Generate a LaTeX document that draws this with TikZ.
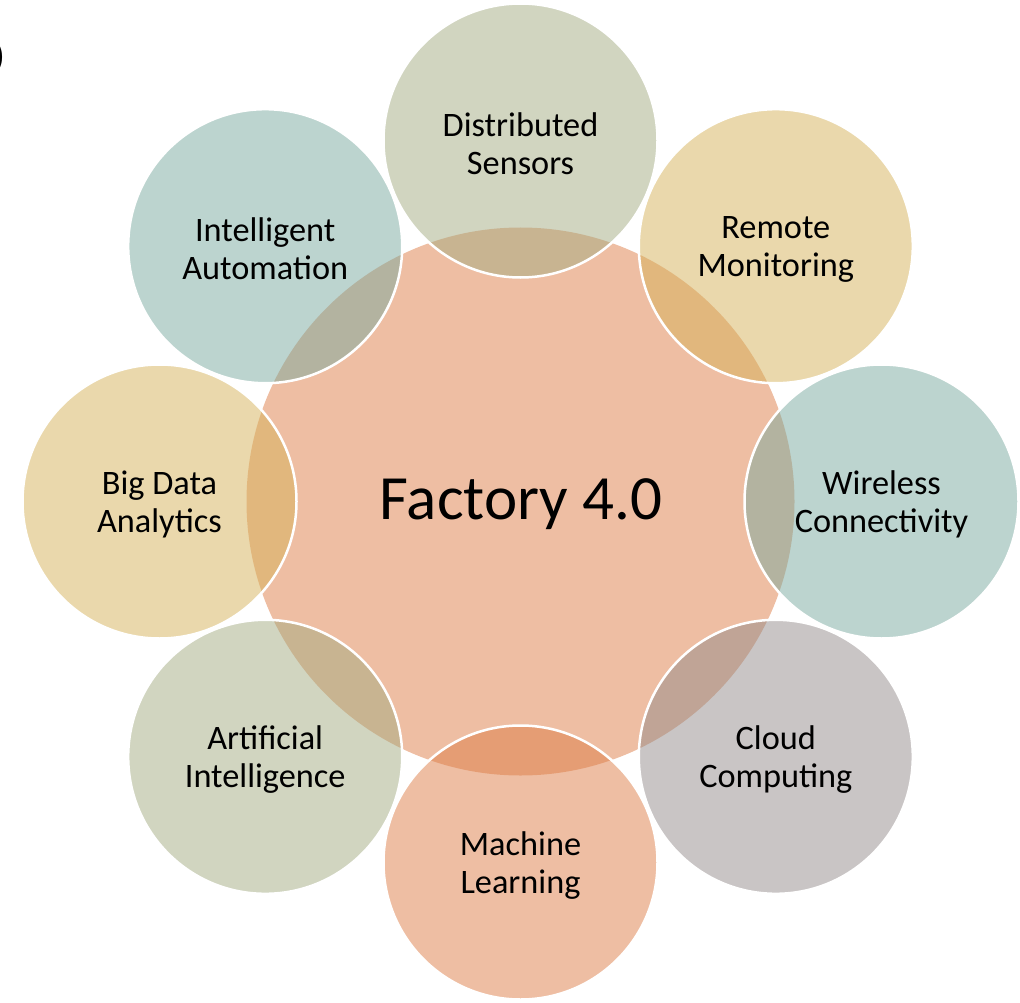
\documentclass[tikz,border=0pt]{standalone}
\usepackage{fontspec}
\setmainfont{Carlito}
\begin{document}
\begin{tikzpicture}[x=1pt,y=-1pt,
  hub/.style={circle, minimum size=548pt, inner sep=0pt, fill=#1, fill opacity=0.5, draw=none},
  petal/.style={circle, minimum size=274pt, inner sep=0pt, fill=#1, fill opacity=0.5,
                draw=white, draw opacity=1, line width=2.5pt},
  petallabel/.style={align=center, inner sep=0pt, yshift=-3pt,
                font=\fontsize{34.3}{38}\selectfont},
  hublabel/.style={font=\fontsize{63}{72}\selectfont}]
  \definecolor{cOrange}{RGB}{221,125,71}
  \definecolor{cOlive}{RGB}{163,171,129}
  \definecolor{cGold}{RGB}{213,177,89}
  \definecolor{cTeal}{RGB}{121,169,159}
  \definecolor{cGray}{RGB}{147,139,139}
  \useasboundingbox (0,0) rectangle (1020,1003);

  % central hub
  \node[hub=cOrange] (hub) at (520.5,501.5) {};
  \node[hublabel] (hubtext) at (521,504) {Factory 4.0};

  % surrounding petals, ring radius 361, 45 degrees apart
  \node[petal=cOlive]  (sensors)  at (520.5,140.5) {};
  \node[petal=cGold]   (remote)   at (775.8,246.2) {};
  \node[petal=cTeal]   (wireless) at (881.5,501.5) {};
  \node[petal=cGray]   (cloud)    at (775.8,756.8) {};
  \node[petal=cOrange] (ml)       at (520.5,862.5) {};
  \node[petal=cOlive]  (ai)       at (265.2,756.8) {};
  \node[petal=cGold]   (bigdata)  at (159.5,501.5) {};
  \node[petal=cTeal]   (auto)     at (265.2,246.2) {};

  % petal captions
  \node[petallabel] (sensorsText)  at (sensors)  {Distributed\\Sensors};
  \node[petallabel] (remoteText)   at (remote)   {Remote\\Monitoring};
  \node[petallabel] (wirelessText) at (wireless) {Wireless\\Connectivity};
  \node[petallabel] (cloudText)    at (cloud)    {Cloud\\Computing};
  \node[petallabel] (mlText)       at (ml)       {Machine\\Learning};
  \node[petallabel] (aiText)       at (ai)       {Artificial\\Intelligence};
  \node[petallabel] (bigdataText)  at (bigdata)  {Big Data\\Analytics};
  \node[petallabel] (autoText)     at (auto)     {Intelligent\\Automation};

  % clipped bracket at the left edge
  \node[anchor=east, inner sep=0pt, font=\fontsize{34}{38}\selectfont] (paren) at (5,57) {)};
\end{tikzpicture}
\end{document}
